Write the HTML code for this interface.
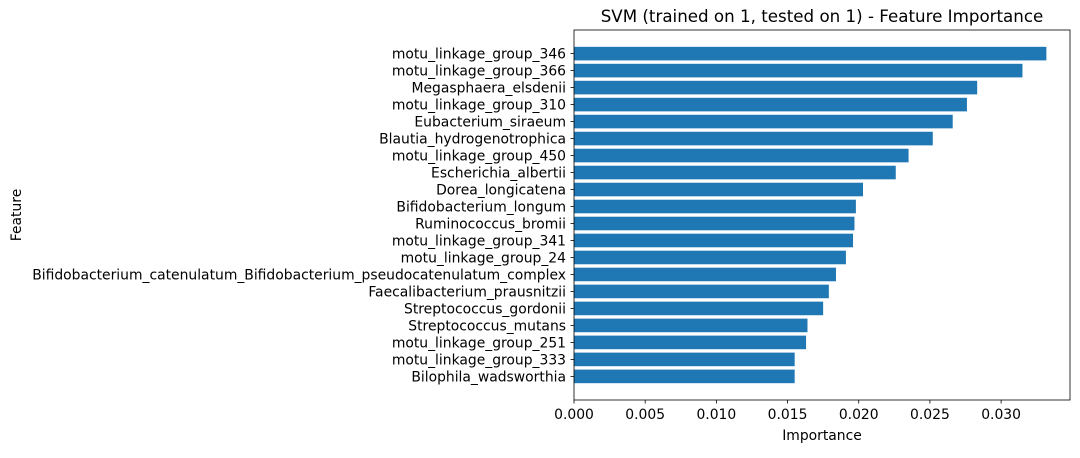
<!DOCTYPE html>
<html><head><meta charset="utf-8"><style>
body{margin:0;background:#fff;font-family:"Liberation Sans","DejaVu Sans",sans-serif;}
svg text{font-family:"DejaVu Sans","Liberation Sans",sans-serif;fill:#000}
</style></head><body>
<svg id="chart" width="1080" height="453"></svg>
<script>
const categories=["motu_linkage_group_346","motu_linkage_group_366","Megasphaera_elsdenii","motu_linkage_group_310","Eubacterium_siraeum","Blautia_hydrogenotrophica","motu_linkage_group_450","Escherichia_albertii","Dorea_longicatena","Bifidobacterium_longum","Ruminococcus_bromii","motu_linkage_group_341","motu_linkage_group_24","Bifidobacterium_catenulatum_Bifidobacterium_pseudocatenulatum_complex","Faecalibacterium_prausnitzii","Streptococcus_gordonii","Streptococcus_mutans","motu_linkage_group_251","motu_linkage_group_333","Bilophila_wadsworthia"];
const values=[0.03318,0.0315,0.02832,0.0276,0.0266,0.0252,0.0235,0.0226,0.0203,0.0198,0.0197,0.0196,0.0191,0.0184,0.0179,0.0175,0.0164,0.0163,0.0155,0.0155];
const xTicks=[0,0.005,0.010,0.015,0.020,0.025,0.030];
const xTickLabels=["0.000","0.005","0.010","0.015","0.020","0.025","0.030"];
const NS="http://www.w3.org/2000/svg";
const svg=document.getElementById('chart');
const L=574,T=30,R=1070,B=400;
const xmax=Math.max(...values)*1.05;
const x=v=>L+v/xmax*(R-L);
const n=categories.length;
const ylo=-0.4-(n-1+0.8)*0.05, yhi=n-1+0.4+(n-1+0.8)*0.05;
const y=i=>T+(i-ylo)/(yhi-ylo)*(B-T);
const unit=(B-T)/(yhi-ylo);
function mk(t,a){const e=document.createElementNS(NS,t);for(const k in a)e.setAttribute(k,a[k]);svg.appendChild(e);return e;}
values.forEach((v,i)=>{
 const r=mk('rect',{x:x(0),y:y(i)-0.4*unit,width:x(v)-x(0),height:0.8*unit,fill:'#1f77b4'});
 
 
 const tk=mk('line',{x1:L-3.5,x2:L,y1:y(i),y2:y(i),stroke:'#000','stroke-width':0.8});
 
 
 const t=mk('text',{x:L-8,y:y(i)+5,'text-anchor':'end','font-size':'13.9'});
 t.textContent=categories[i];
 
 
});
xTicks.forEach((v,i)=>{
 const tk=mk('line',{x1:x(v),x2:x(v),y1:B,y2:B+3.5,stroke:'#000','stroke-width':0.8});
 
 
 const t=mk('text',{x:x(v),y:B+19,'text-anchor':'middle','font-size':'13.9'});
 t.textContent=xTickLabels[i];
 
 
});
const fr=mk('rect',{x:L,y:T,width:R-L,height:B-T,fill:'none',stroke:'#000','stroke-width':0.8});


const xt=mk('text',{x:(L+R)/2,y:440,'text-anchor':'middle','font-size':'13.9'});
xt.textContent='Importance';


const yt=mk('text',{x:21,y:(T+B)/2,'text-anchor':'middle','font-size':'13.9',transform:'rotate(-90 21 '+((T+B)/2)+')'});
yt.textContent='Feature';


const tt=mk('text',{x:(L+R)/2,y:22,'text-anchor':'middle','font-size':'16.7'});
tt.textContent='SVM (trained on 1, tested on 1) -  Feature Importance';


</script>
</body></html>
